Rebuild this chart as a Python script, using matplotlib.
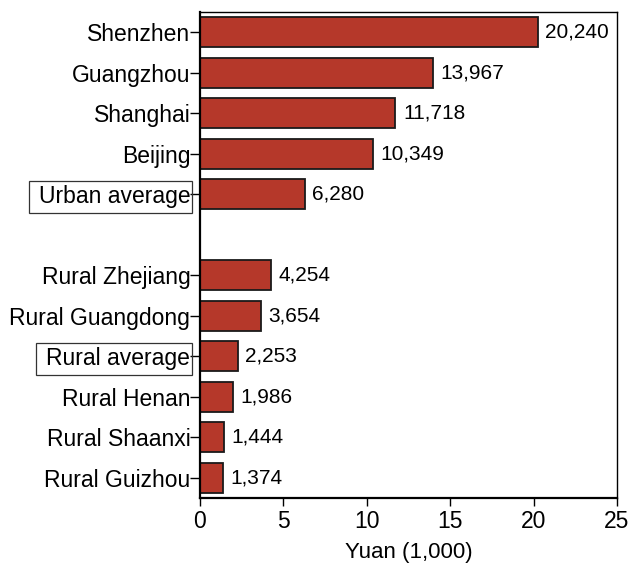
import matplotlib.pyplot as plt
from matplotlib.patches import Rectangle

plt.rcParams['font.family'] = ['Liberation Sans', 'DejaVu Sans']

# values in yuan, top to bottom
urban_labels = ['Shenzhen', 'Guangzhou', 'Shanghai', 'Beijing', 'Urban average']
urban_values = [20240, 13967, 11718, 10349, 6280]
rural_labels = ['Rural Zhejiang', 'Rural Guangdong', 'Rural average',
                'Rural Henan', 'Rural Shaanxi', 'Rural Guizhou']
rural_values = [4254, 3654, 2253, 1986, 1444, 1374]
boxed = ['Urban average', 'Rural average']

labels = urban_labels + rural_labels
values = urban_values + rural_values
pos = list(range(len(urban_labels))) + [len(urban_labels) + 1 + i for i in range(len(rural_labels))]

fig = plt.figure(figsize=(6.3, 5.68), dpi=100)
ax = fig.add_axes([200 / 630, 70 / 568, 417 / 630, 486 / 568])

ax.barh(pos, [v / 1000 for v in values], height=0.75, color='#B5382A',
        edgecolor='#1a1a1a', linewidth=1.3)

for p, v in zip(pos, values):
    ax.text(v / 1000 + 0.45, p, f'{v:,}', va='center', ha='left', fontsize=15)

ax.set_ylim(11.5, -0.5)
ax.set_xlim(0, 25)
ax.set_xticks([0, 5, 10, 15, 20, 25])
ax.set_yticks(pos)
ax.set_yticklabels(labels, fontsize=16.5)
ax.tick_params(axis='x', labelsize=16.5, length=6, width=1, direction='out', pad=3)
ax.tick_params(axis='y', length=7, width=1, direction='out', pad=0)
ax.set_xlabel('Yuan (1,000)', fontsize=16, labelpad=6)

for s in ['left', 'bottom']:
    ax.spines[s].set_linewidth(1.6)
for s in ['top', 'right']:
    ax.spines[s].set_linewidth(1.0)

# boxes around the two average labels
fig.canvas.draw()
r = fig.canvas.get_renderer()
for lab in ax.get_yticklabels():
    if lab.get_text() in boxed:
        bb = lab.get_window_extent(r)
        x0, x1 = bb.x0 - 10, bb.x1 + 2
        yc = (bb.y0 + bb.y1) / 2
        y0, y1 = yc - 16, yc + 16
        fig.patches.append(Rectangle((x0, y0), x1 - x0, y1 - y0, transform=None,
                                     facecolor='none', edgecolor='#333333',
                                     linewidth=0.9))

fig.savefig('out.png', dpi=100)
